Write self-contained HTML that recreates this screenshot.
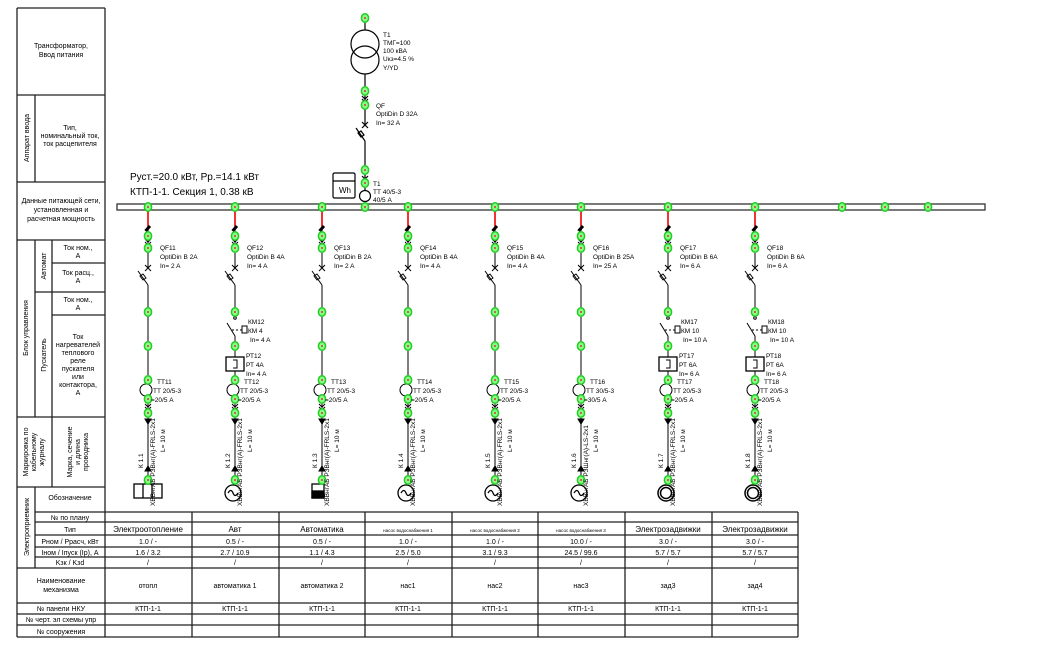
<!DOCTYPE html>
<html><head><meta charset="utf-8"><style>
html,body{margin:0;padding:0;background:#fff}
svg{display:block}
text{font-family:"Liberation Sans Narrow","Liberation Sans",sans-serif;fill:#000}
.s{font-size:7px}
.t{font-size:6.5px}
</style></head><body>
<svg width="1055" height="652" viewBox="0 0 1055 652" xmlns="http://www.w3.org/2000/svg">
<defs>
<g id="dot"><ellipse rx="3.6" ry="4.3" fill="#8f8" stroke="#2c2" stroke-width="1.5"/><circle r="1" fill="#d33"/></g>
<g id="br" stroke="#000" fill="none" stroke-width="1">
  <line x1="0" y1="228" x2="0" y2="268"/>
  <line x1="0" y1="208" x2="0" y2="230" stroke="#e00" stroke-width="1.6"/>
  <path d="M-2.5,231 L2,226" stroke-width="3"/>
  <path d="M-3,239 L0,242 L3,239 M-3,242 L0,245 L3,242"/>
  <path d="M-3,265 L3,271 M3,265 L-3,271"/>
  <path d="M-10,271 L0,285"/>
  <path d="M-8,276 L-5,274 L-2,278 L-5,280 Z" stroke-width="1"/>
  <line x1="0" y1="285" x2="0" y2="480"/>
  <circle cx="-2" cy="390" r="6" fill="#fff"/>
  <path d="M-3,404 L0,407 L3,404 M-3,407 L0,410 L3,407"/>
  <path d="M-3,419 L3,419 L0,424 Z" fill="#000"/>
  <path d="M-3,471 L3,471 L0,466 Z" fill="#000"/>
</g>
<g id="km" stroke="#000" fill="none" stroke-width="1">
  <rect x="-4" y="316" width="8" height="20" fill="#fff" stroke="none"/>
  <circle cx="0" cy="318" r="1.3"/>
  <path d="M-8,323 L0,336"/>
  <path d="M-3,330 L7,330" stroke-dasharray="2,2"/>
  <rect x="7" y="326" width="5" height="7" fill="#fff"/>
  <rect x="-9" y="357" width="18" height="14" fill="#fff" stroke-width="1.3"/>
  <path d="M-2,360 L2,360 L2,368 L-2,368"/>
</g>
<g id="mot" stroke="#000" fill="#fff" stroke-width="1.5"><circle cx="-2" cy="493" r="8"/><circle cx="-2" cy="493" r="5.5"/></g>
<g id="gen" stroke="#000" fill="#fff" stroke-width="1.3"><circle cx="-2" cy="493" r="8"/><path d="M-7,493 Q-4,488 -2,493 T3,493" fill="none"/></g>
</defs>

<g stroke="#222" stroke-width="1.3" fill="none">
<line x1="17" y1="8" x2="105" y2="8"/>
<line x1="17" y1="8" x2="17" y2="637"/>
<line x1="105" y1="8" x2="105" y2="512"/>
<line x1="17" y1="95" x2="105" y2="95"/>
<line x1="17" y1="182" x2="105" y2="182"/>
<line x1="35" y1="95" x2="35" y2="182"/>
<line x1="17" y1="240" x2="105" y2="240"/>
<line x1="35" y1="240" x2="35" y2="417"/>
<line x1="52" y1="240" x2="52" y2="417"/>
<line x1="52" y1="263" x2="105" y2="263"/>
<line x1="35" y1="292" x2="105" y2="292"/>
<line x1="52" y1="315" x2="105" y2="315"/>
<line x1="17" y1="417" x2="105" y2="417"/>
<line x1="52" y1="417" x2="52" y2="487"/>
<line x1="17" y1="487" x2="105" y2="487"/>
<line x1="35" y1="487" x2="35" y2="568"/>
<line x1="35" y1="512" x2="798" y2="512"/>
<line x1="35" y1="522" x2="798" y2="522"/>
<line x1="35" y1="535" x2="798" y2="535"/>
<line x1="35" y1="547" x2="798" y2="547"/>
<line x1="35" y1="557" x2="798" y2="557"/>
<line x1="17" y1="568" x2="798" y2="568"/>
<line x1="17" y1="603" x2="798" y2="603"/>
<line x1="17" y1="614" x2="798" y2="614"/>
<line x1="17" y1="625" x2="798" y2="625"/>
<line x1="17" y1="637" x2="798" y2="637"/>
<line x1="105" y1="512" x2="105" y2="637"/>
<line x1="192" y1="512" x2="192" y2="637"/>
<line x1="279" y1="512" x2="279" y2="637"/>
<line x1="365" y1="512" x2="365" y2="637"/>
<line x1="452" y1="512" x2="452" y2="637"/>
<line x1="538" y1="512" x2="538" y2="637"/>
<line x1="625" y1="512" x2="625" y2="637"/>
<line x1="712" y1="512" x2="712" y2="637"/>
<line x1="798" y1="512" x2="798" y2="637"/>
</g>

<g class="s" text-anchor="middle">
<text x="61" y="48">Трансформатор,</text><text x="61" y="57">Ввод питания</text>
<text x="70" y="130">Тип,</text><text x="70" y="138">номинальный ток,</text><text x="70" y="146">ток расцепителя</text>
<text x="61" y="203">Данные питающей сети,</text><text x="61" y="212">установленная и</text><text x="61" y="221">расчетная мощность</text>
<text x="78" y="250">Ток ном.,</text><text x="78" y="258">А</text>
<text x="78" y="275">Ток расц.,</text><text x="78" y="283">А</text>
<text x="78" y="302">Ток ном.,</text><text x="78" y="310">А</text>
<text x="78" y="339">Ток</text><text x="78" y="347">нагревателей</text><text x="78" y="355">теплового</text><text x="78" y="363">реле</text><text x="78" y="371">пускателя</text><text x="78" y="379">или</text><text x="78" y="387">контактора,</text><text x="78" y="395">А</text>
<text x="70" y="500">Обозначение</text>
<text x="70" y="520">№ по плану</text>
<text x="70" y="532">Тип</text>
<text x="70" y="544">Рном / Ррасч, кВт</text>
<text x="70" y="555">Iном / Iпуск (Iр), А</text>
<text x="70" y="565">Kзк / Kзd</text>
<text x="61" y="583">Наименование</text><text x="61" y="592">механизма</text>
<text x="61" y="611">№ панели НКУ</text>
<text x="61" y="622">№ черт. эл схемы упр</text>
<text x="61" y="634">№ сооружения</text>
</g>
<g class="s" text-anchor="middle">
<text transform="translate(29,138) rotate(-90)">Аппарат ввода</text>
<text transform="translate(28,328) rotate(-90)">Блок управления</text>
<text transform="translate(46,266) rotate(-90)">Автомат</text>
<text transform="translate(46,355) rotate(-90)">Пускатель</text>
<text transform="translate(28,452) rotate(-90)">Маркировка по</text>
<text transform="translate(36,452) rotate(-90)">кабельному</text>
<text transform="translate(44,452) rotate(-90)">журналу</text>
<text transform="translate(72,452) rotate(-90)">Марка, сечение</text>
<text transform="translate(80,452) rotate(-90)">и длина</text>
<text transform="translate(88,452) rotate(-90)">проводника</text>
<text transform="translate(29,527) rotate(-90)">Электроприемник</text>
</g>

<g class="s" text-anchor="middle">
<text x="148" y="532" style="font-size:8px">Электроотопление</text>
<text x="235" y="532" style="font-size:8px">Авт</text>
<text x="322" y="532" style="font-size:8px">Автоматика</text>
<text x="408" y="532" style="font-size:4.5px">насос водоснабжения 1</text>
<text x="495" y="532" style="font-size:4.5px">насос водоснабжения 2</text>
<text x="581" y="532" style="font-size:4.5px">насос водоснабжения 3</text>
<text x="668" y="532" style="font-size:8px">Электрозадвижки</text>
<text x="755" y="532" style="font-size:8px">Электрозадвижки</text>
<text x="148" y="544">1.0 / -</text><text x="235" y="544">0.5 / -</text><text x="322" y="544">0.5 / -</text><text x="408" y="544">1.0 / -</text><text x="495" y="544">1.0 / -</text><text x="581" y="544">10.0 / -</text><text x="668" y="544">3.0 / -</text><text x="755" y="544">3.0 / -</text>
<text x="148" y="555">1.6 / 3.2</text><text x="235" y="555">2.7 / 10.9</text><text x="322" y="555">1.1 / 4.3</text><text x="408" y="555">2.5 / 5.0</text><text x="495" y="555">3.1 / 9.3</text><text x="581" y="555">24.5 / 99.6</text><text x="668" y="555">5.7 / 5.7</text><text x="755" y="555">5.7 / 5.7</text>
<text x="148" y="565">/</text><text x="235" y="565">/</text><text x="322" y="565">/</text><text x="408" y="565">/</text><text x="495" y="565">/</text><text x="581" y="565">/</text><text x="668" y="565">/</text><text x="755" y="565">/</text>
<text x="148" y="588">отопл</text><text x="235" y="588">автоматика 1</text><text x="322" y="588">автоматика 2</text><text x="408" y="588">нас1</text><text x="495" y="588">нас2</text><text x="581" y="588">нас3</text><text x="668" y="588">зад3</text><text x="755" y="588">зад4</text>
<text x="148" y="611">КТП-1-1</text><text x="235" y="611">КТП-1-1</text><text x="322" y="611">КТП-1-1</text><text x="408" y="611">КТП-1-1</text><text x="495" y="611">КТП-1-1</text><text x="581" y="611">КТП-1-1</text><text x="668" y="611">КТП-1-1</text><text x="755" y="611">КТП-1-1</text>
</g>

<g stroke="#000" fill="none" stroke-width="1.2">
<line x1="365" y1="18" x2="365" y2="30"/>
<circle cx="365" cy="44" r="14"/>
<circle cx="365" cy="60" r="14"/>
<line x1="365" y1="74" x2="365" y2="125"/>
<path d="M362,96 L365,99 L368,96 M362,99 L365,102 L368,99"/>
<path d="M362,122 L368,128 M368,122 L362,128"/>
<path d="M356,128 L365,141"/>
<path d="M358,133 L361,131 L364,135 L361,137 Z"/>
<line x1="365" y1="141" x2="365" y2="207"/>
<circle cx="365" cy="196" r="5.5" fill="#fff"/>
<path d="M362,176 L365,179 L368,176"/>
<rect x="333" y="173" width="22" height="25" rx="1.5" fill="#fff"/>
<line x1="333" y1="181" x2="355" y2="181"/>
<rect x="117" y="204" width="868" height="6" fill="#fff" stroke="#333" stroke-width="1.3"/>
</g>
<text x="339" y="193" style="font-size:8px">Wh</text>
<g class="t">
<text x="383" y="37">Т1</text><text x="383" y="45">ТМГ=100</text><text x="383" y="53">100 кВА</text><text x="383" y="61">Uкз=4.5 %</text><text x="383" y="70">Y/YD</text>
<text x="376" y="108">QF</text><text x="376" y="116">OptiDin D 32A</text><text x="376" y="125">In= 32 A</text>
<text x="373" y="186">Т1</text><text x="373" y="194">ТТ 40/5-3</text><text x="373" y="202">40/5 А</text>
</g>
<text x="130" y="180" style="font-size:10px">Руст.=20.0 кВт, Рр.=14.1 кВт</text>
<text x="130" y="195" style="font-size:10px">КТП-1-1. Секция 1, 0.38 кВ</text>
<g>
<use href="#dot" x="365" y="18"/><use href="#dot" x="365" y="91"/><use href="#dot" x="365" y="105"/>
<use href="#dot" x="365" y="170"/><use href="#dot" x="365" y="183"/><use href="#dot" x="365" y="207"/>
<use href="#dot" x="842" y="207"/><use href="#dot" x="885" y="207"/><use href="#dot" x="928" y="207"/>
</g>

<g>
<use href="#br" x="148"/><use href="#br" x="235"/><use href="#br" x="322"/><use href="#br" x="408"/>
<use href="#br" x="495"/><use href="#br" x="581"/><use href="#br" x="668"/><use href="#br" x="755"/>
<use href="#km" x="235"/><use href="#km" x="668"/><use href="#km" x="755"/>
</g>
<g stroke="#000" fill="#fff" stroke-width="1.3">
<rect x="134" y="484" width="28" height="14"/><line x1="143" y1="484" x2="143" y2="498"/><line x1="152" y1="484" x2="152" y2="498"/>
<rect x="312" y="484" width="12" height="14"/><rect x="312" y="491" width="12" height="7" fill="#000"/>
</g>
<use href="#gen" x="235"/><use href="#gen" x="408"/><use href="#gen" x="495"/><use href="#gen" x="581"/>
<use href="#mot" x="668"/><use href="#mot" x="755"/>

<g>
<use href="#dot" x="148" y="207"/><use href="#dot" x="148" y="236"/><use href="#dot" x="148" y="248"/><use href="#dot" x="148" y="312"/><use href="#dot" x="148" y="346"/><use href="#dot" x="148" y="380"/><use href="#dot" x="148" y="399"/><use href="#dot" x="148" y="413"/><use href="#dot" x="148" y="480"/>
<use href="#dot" x="235" y="207"/><use href="#dot" x="235" y="236"/><use href="#dot" x="235" y="248"/><use href="#dot" x="235" y="312"/><use href="#dot" x="235" y="346"/><use href="#dot" x="235" y="380"/><use href="#dot" x="235" y="399"/><use href="#dot" x="235" y="413"/><use href="#dot" x="235" y="480"/>
<use href="#dot" x="322" y="207"/><use href="#dot" x="322" y="236"/><use href="#dot" x="322" y="248"/><use href="#dot" x="322" y="312"/><use href="#dot" x="322" y="346"/><use href="#dot" x="322" y="380"/><use href="#dot" x="322" y="399"/><use href="#dot" x="322" y="413"/><use href="#dot" x="322" y="480"/>
<use href="#dot" x="408" y="207"/><use href="#dot" x="408" y="236"/><use href="#dot" x="408" y="248"/><use href="#dot" x="408" y="312"/><use href="#dot" x="408" y="346"/><use href="#dot" x="408" y="380"/><use href="#dot" x="408" y="399"/><use href="#dot" x="408" y="413"/><use href="#dot" x="408" y="480"/>
<use href="#dot" x="495" y="207"/><use href="#dot" x="495" y="236"/><use href="#dot" x="495" y="248"/><use href="#dot" x="495" y="312"/><use href="#dot" x="495" y="346"/><use href="#dot" x="495" y="380"/><use href="#dot" x="495" y="399"/><use href="#dot" x="495" y="413"/><use href="#dot" x="495" y="480"/>
<use href="#dot" x="581" y="207"/><use href="#dot" x="581" y="236"/><use href="#dot" x="581" y="248"/><use href="#dot" x="581" y="312"/><use href="#dot" x="581" y="346"/><use href="#dot" x="581" y="380"/><use href="#dot" x="581" y="399"/><use href="#dot" x="581" y="413"/><use href="#dot" x="581" y="480"/>
<use href="#dot" x="668" y="207"/><use href="#dot" x="668" y="236"/><use href="#dot" x="668" y="248"/><use href="#dot" x="668" y="312"/><use href="#dot" x="668" y="346"/><use href="#dot" x="668" y="380"/><use href="#dot" x="668" y="399"/><use href="#dot" x="668" y="413"/><use href="#dot" x="668" y="480"/>
<use href="#dot" x="755" y="207"/><use href="#dot" x="755" y="236"/><use href="#dot" x="755" y="248"/><use href="#dot" x="755" y="312"/><use href="#dot" x="755" y="346"/><use href="#dot" x="755" y="380"/><use href="#dot" x="755" y="399"/><use href="#dot" x="755" y="413"/><use href="#dot" x="755" y="480"/>
</g>

<g class="t">
<text x="160" y="250">QF11</text><text x="160" y="259">OptiDin B 2A</text><text x="160" y="268">In= 2 A</text>
<text x="247" y="250">QF12</text><text x="247" y="259">OptiDin B 4A</text><text x="247" y="268">In= 4 A</text>
<text x="334" y="250">QF13</text><text x="334" y="259">OptiDin B 2A</text><text x="334" y="268">In= 2 A</text>
<text x="420" y="250">QF14</text><text x="420" y="259">OptiDin B 4A</text><text x="420" y="268">In= 4 A</text>
<text x="507" y="250">QF15</text><text x="507" y="259">OptiDin B 4A</text><text x="507" y="268">In= 4 A</text>
<text x="593" y="250">QF16</text><text x="593" y="259">OptiDin B 25A</text><text x="593" y="268">In= 25 A</text>
<text x="680" y="250">QF17</text><text x="680" y="259">OptiDin B 6A</text><text x="680" y="268">In= 6 A</text>
<text x="767" y="250">QF18</text><text x="767" y="259">OptiDin B 6A</text><text x="767" y="268">In= 6 A</text>

<text x="248" y="324">КМ12</text><text x="248" y="333">КМ 4</text><text x="250" y="342">In= 4 A</text>
<text x="246" y="358">РТ12</text><text x="246" y="367">РТ 4А</text><text x="246" y="376">In= 4 A</text>
<text x="681" y="324">КМ17</text><text x="681" y="333">КМ 10</text><text x="683" y="342">In= 10 A</text>
<text x="679" y="358">РТ17</text><text x="679" y="367">РТ 6А</text><text x="679" y="376">In= 6 A</text>
<text x="768" y="324">КМ18</text><text x="768" y="333">КМ 10</text><text x="770" y="342">In= 10 A</text>
<text x="766" y="358">РТ18</text><text x="766" y="367">РТ 6А</text><text x="766" y="376">In= 6 A</text>

<text x="157" y="384">ТТ11</text><text x="153" y="393">ТТ 20/5-3</text><text x="151" y="402">=20/5 А</text>
<text x="244" y="384">ТТ12</text><text x="240" y="393">ТТ 20/5-3</text><text x="238" y="402">=20/5 А</text>
<text x="331" y="384">ТТ13</text><text x="327" y="393">ТТ 20/5-3</text><text x="325" y="402">=20/5 А</text>
<text x="417" y="384">ТТ14</text><text x="413" y="393">ТТ 20/5-3</text><text x="411" y="402">=20/5 А</text>
<text x="504" y="384">ТТ15</text><text x="500" y="393">ТТ 20/5-3</text><text x="498" y="402">=20/5 А</text>
<text x="590" y="384">ТТ16</text><text x="586" y="393">ТТ 30/5-3</text><text x="584" y="402">=30/5 А</text>
<text x="677" y="384">ТТ17</text><text x="673" y="393">ТТ 20/5-3</text><text x="671" y="402">=20/5 А</text>
<text x="764" y="384">ТТ18</text><text x="760" y="393">ТТ 20/5-3</text><text x="758" y="402">=20/5 А</text>
</g>

<g class="t">
<text transform="translate(143,468) rotate(-90)">К 1.1</text><text transform="translate(155,506) rotate(-90)">ХВВнгАБ РЗВнг(А)-FRLS-2х1</text><text transform="translate(165,452) rotate(-90)">L= 10 м</text>
<text transform="translate(230,468) rotate(-90)">К 1.2</text><text transform="translate(242,506) rotate(-90)">ХВВнгАБ РЗВнг(А)-FRLS-2х1</text><text transform="translate(252,452) rotate(-90)">L= 10 м</text>
<text transform="translate(317,468) rotate(-90)">К 1.3</text><text transform="translate(329,506) rotate(-90)">ХВВнгАБ РЗВнг(А)-FRLS-2х1</text><text transform="translate(339,452) rotate(-90)">L= 10 м</text>
<text transform="translate(403,468) rotate(-90)">К 1.4</text><text transform="translate(415,506) rotate(-90)">ХВВнгАБ РЗВнг(А)-FRLS-2х1</text><text transform="translate(425,452) rotate(-90)">L= 10 м</text>
<text transform="translate(490,468) rotate(-90)">К 1.5</text><text transform="translate(502,506) rotate(-90)">ХВВнгАБ РЗВнг(А)-FRLS-2х1</text><text transform="translate(512,452) rotate(-90)">L= 10 м</text>
<text transform="translate(576,468) rotate(-90)">К 1.6</text><text transform="translate(588,506) rotate(-90)">ХВВнгАБ РЗШнг(А)-LS-2х1</text><text transform="translate(598,452) rotate(-90)">L= 10 м</text>
<text transform="translate(663,468) rotate(-90)">К 1.7</text><text transform="translate(675,506) rotate(-90)">ХВВнгАБ РЗВнг(А)-FRLS-2х1</text><text transform="translate(685,452) rotate(-90)">L= 10 м</text>
<text transform="translate(750,468) rotate(-90)">К 1.8</text><text transform="translate(762,506) rotate(-90)">ХВВнгАБ РЗВнг(А)-FRLS-2х1</text><text transform="translate(772,452) rotate(-90)">L= 10 м</text>
</g>
</svg>
</body></html>
